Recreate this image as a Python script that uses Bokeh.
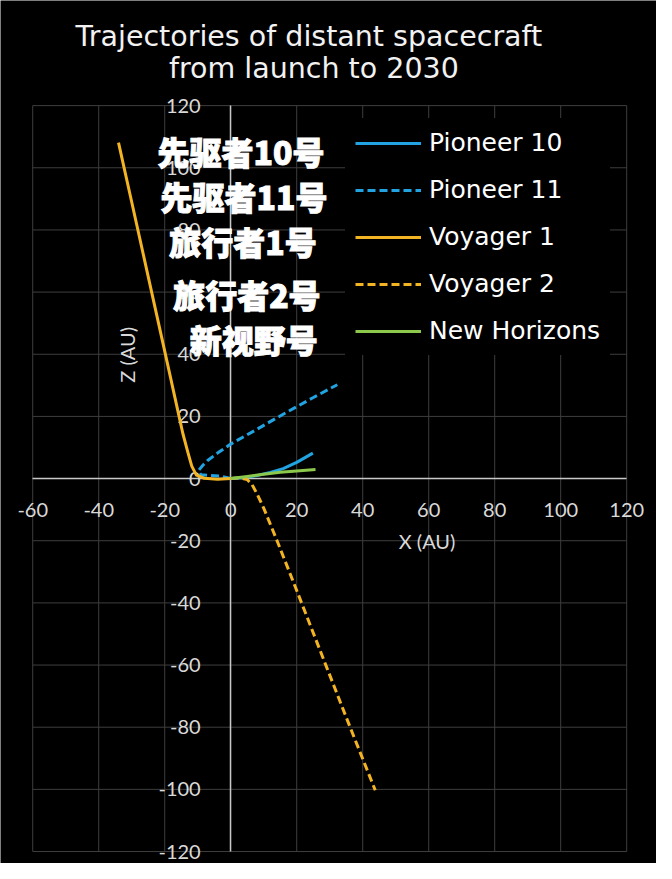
from bokeh.plotting import figure
from bokeh.models import (Range1d, LinearAxis, FixedTicker, Label, Legend,
                          LegendItem, ColumnDataSource, PrintfTickFormatter)
from bokeh.embed import file_html
from bokeh.resources import INLINE

# ---------------- data ----------------
title_lines = ["Trajectories of distant spacecraft", "from launch to 2030"]
x_ticks = [-60, -40, -20, 0, 20, 40, 60, 80, 100, 120]
z_ticks = [-120, -100, -80, -60, -40, -20, 0, 20, 40, 60, 80, 100, 120]
series_names = ["Pioneer 10", "Pioneer 11", "Voyager 1", "Voyager 2", "New Horizons"]
chinese_names = ["先驱者10号", "先驱者11号", "旅行者1号", "旅行者2号", "新视野号"]

pioneer10_x = [0, 4, 8, 12, 15.9, 20, 24.9]
pioneer10_z = [0, 0.3, 1.0, 2.0, 3.2, 5.2, 8.2]

pioneer11_x = [0, -3, -6, -9, -9.8, -8.5, -7, -4, 0, 8, 15.9, 24.9, 32.3]
pioneer11_z = [0, 0.8, 1.0, 1.2, 2.5, 4.2, 5.8, 8.2, 11.1, 15.9, 20.7, 26.0, 30.2]

voyager1_x = [0, -4, -8, -10.4, -11.8, -13, -14.5, -15.9, -20, -25, -30, -34]
voyager1_z = [0, -0.2, 0.1, 1.1, 4.0, 8.5, 14.5, 21.2, 41, 65, 89, 108.1]

voyager2_x = [0, 3, 5, 6.5, 8, 10, 14.2, 20, 29, 36, 43.8]
voyager2_z = [0, 0.2, -0.3, -2.0, -5.0, -9.5, -20.4, -36, -60.5, -79.5, -100.3]

newhorizons_x = [0, 5, 10, 15, 20, 25.7]
newhorizons_z = [0, 0.7, 1.4, 2.0, 2.4, 2.9]

# ---------------- styles / layout ----------------
BLUE = "#20a3e0"
YELLOW = "#f3b424"
GREEN = "#8cc84b"
styles = [
    (BLUE, "solid"), (BLUE, "8 4"), (YELLOW, "solid"), (YELLOW, "8 4"), (GREEN, "solid"),
]
series = [
    (pioneer10_x, pioneer10_z), (pioneer11_x, pioneer11_z), (voyager1_x, voyager1_z),
    (voyager2_x, voyager2_z), (newhorizons_x, newhorizons_z),
]

# the plotting frame fills the whole canvas; ranges are padded so the
# tick grid (-60..120, -120..120) sits where the reference has it
p = figure(width=656, height=863, output_backend="svg", toolbar_location=None,
           x_range=Range1d(-69.76, 129.03), y_range=Range1d(-123.85, 153.82),
           x_axis_location=None, y_axis_location=None,
           min_border_left=0, min_border_right=0, min_border_top=0, min_border_bottom=0)
p.background_fill_color = "black"
p.border_fill_color = "black"
p.outline_line_color = None
p.xgrid.visible = False
p.ygrid.visible = False

GRID = "#3e3e3e"
# grid lines at the tick positions, bounded to the tick extent
p.segment(x0=x_ticks, x1=x_ticks, y0=[z_ticks[0]] * len(x_ticks), y1=[z_ticks[-1]] * len(x_ticks),
          line_color=GRID, line_width=1)
p.segment(x0=[x_ticks[0]] * len(z_ticks), x1=[x_ticks[-1]] * len(z_ticks), y0=z_ticks, y1=z_ticks,
          line_color=GRID, line_width=1)

xaxis = LinearAxis(ticker=FixedTicker(ticks=x_ticks), fixed_location=0,
                   bounds=(x_ticks[0], x_ticks[-1]), formatter=PrintfTickFormatter(format="%d"))
yaxis = LinearAxis(ticker=FixedTicker(ticks=z_ticks), fixed_location=0,
                   bounds=(z_ticks[0], z_ticks[-1]), formatter=PrintfTickFormatter(format="%d"))
for ax, standoff in ((xaxis, 18), (yaxis, 24)):
    ax.axis_line_color = "#c8c8c8"
    ax.axis_line_width = 1.5
    ax.major_tick_line_color = None
    ax.minor_tick_line_color = None
    ax.major_label_text_font = "Lato"
    ax.major_label_text_font_size = "20px"
    ax.major_label_text_color = "#d9d9d9"
    ax.major_label_standoff = standoff
p.add_layout(xaxis, "below")
p.add_layout(yaxis, "left")

renderers = []
for (xs, zs), (col, dash) in zip(series, styles):
    src = ColumnDataSource(dict(x=xs, z=zs))
    r = p.line("x", "z", source=src, line_color=col, line_width=3, line_dash=dash,
               line_join="round", level="overlay")
    renderers.append(r)

legend = Legend(items=[LegendItem(label=n, renderers=[r]) for n, r in zip(series_names, renderers)],
                location=(345, 508), orientation="vertical",
                label_text_font="DejaVu Sans", label_text_font_size="25px",
                label_text_color="white", glyph_width=66, glyph_height=28, label_height=28,
                spacing=18, padding=10, margin=0, label_standoff=8,
                background_fill_color="black", background_fill_alpha=1.0,
                border_line_alpha=0)
p.add_layout(legend)

# title
title_pos = [(23.7, 142.2), (25.2, 131.9)]
for t, (tx, ty) in zip(title_lines, title_pos):
    p.add_layout(Label(x=tx, y=ty, text=t, text_font="DejaVu Sans", text_font_size="28.5px",
                       text_color="#f2f2f2", text_align="center", text_baseline="middle"))

# axis titles
p.add_layout(Label(x=59.5, y=-20.1, text="X (AU)", text_font="Lato", text_font_size="20px",
                   text_color="#d9d9d9", text_align="center", text_baseline="middle"))
p.add_layout(Label(x=-31.3, y=39.8, text="Z (AU)", text_font="Lato", text_font_size="20px",
                   text_color="#d9d9d9", text_align="center", text_baseline="middle",
                   angle=1.5708))

# Chinese overlay labels
cn_pos = [(3.1, 105.5), (4.0, 90.9), (3.7, 76.5), (4.9, 59.4), (7.0, 44.8)]
for t, (tx, ty) in zip(chinese_names, cn_pos):
    p.add_layout(Label(x=tx, y=ty, text=t,
                       text_font="'Noto Sans CJK SC Black', 'Noto Sans CJK SC'",
                       text_font_style="bold", text_font_size="32px", text_color="white",
                       text_outline_color="white",
                       text_align="center", text_baseline="middle"))

open("out.html", "w").write(file_html(p, INLINE))
